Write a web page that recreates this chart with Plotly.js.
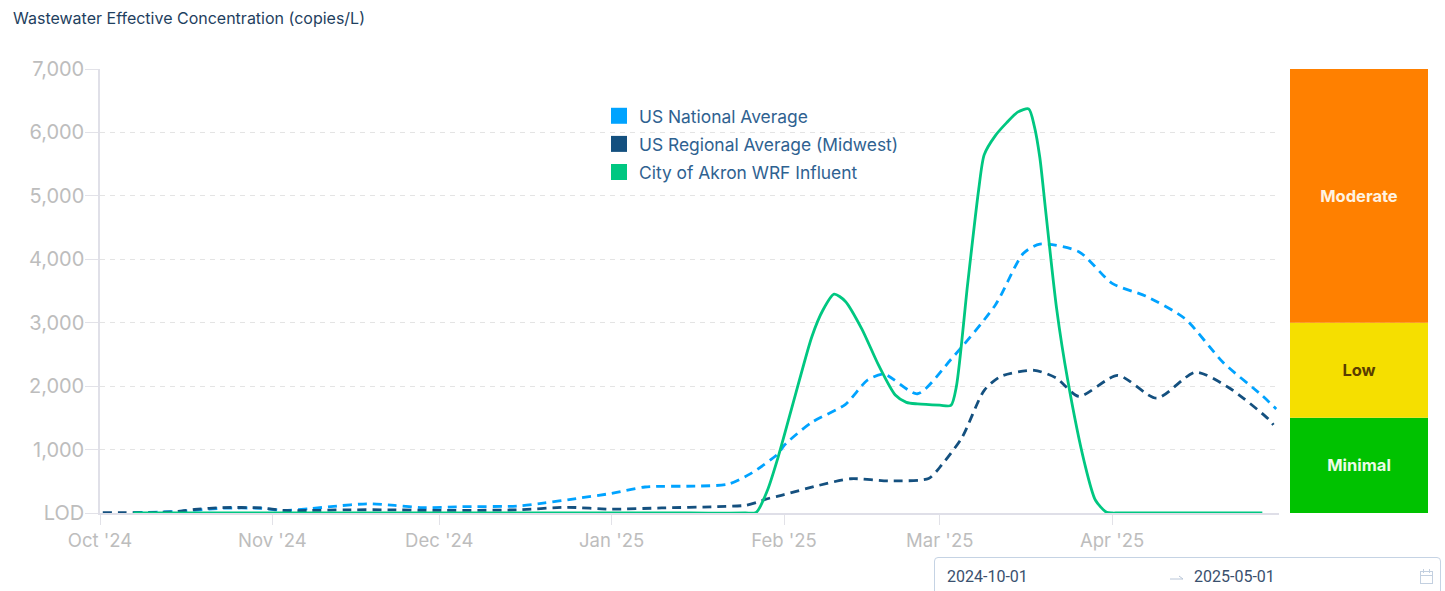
<!DOCTYPE html>
<html>
<head>
<meta charset="utf-8">
<script src="https://cdn.plot.ly/plotly-3.0.1.min.js"></script>
<style>
html,body{margin:0;padding:0;background:#fff;overflow:hidden}
#chart{position:absolute;left:0;top:0;width:1445px;height:591px}
#picker{position:absolute;left:934px;top:557px;width:507px;height:50px;box-sizing:border-box;border:1px solid #c5d3e4;border-radius:4px;background:#fff;font-family:Roboto,sans-serif;font-size:16px;color:#3a506e}
#picker span{position:absolute;top:9px;line-height:20px}
#picker svg{position:absolute}
</style>
</head>
<body>
<div id="chart"></div>
<div id="picker">
  <span style="left:12px">2024-10-01</span>
  <svg style="left:234px;top:15px" width="16" height="10"><path d="M1 6H14L10 3" fill="none" stroke="#b9c6d8" stroke-width="1"/></svg>
  <span style="left:259px">2025-05-01</span>
  <svg style="left:484px;top:10px" width="16" height="18"><rect x="1.5" y="3.5" width="12" height="12" fill="none" stroke="#c3d0e0"/><path d="M1.5 7.5H13.5M4.5 1V5M10.5 1V5" stroke="#c3d0e0" fill="none"/></svg>
</div>
<script>
var chartTitle = 'Wastewater Effective Concentration (copies/L)';
var nameNational = 'US National Average';
var nameRegional = 'US Regional Average (Midwest)';
var nameCity = 'City of Akron WRF Influent';

var yTickVals = [0,1000,2000,3000,4000,5000,6000,7000];
var yTickText = ['LOD','1,000','2,000','3,000','4,000','5,000','6,000','7,000'];

var regionalDates = ['2024-10-01T12','2024-10-05','2024-10-10','2024-10-15','2024-10-18','2024-10-23','2024-10-30','2024-11-03','2024-11-08','2024-11-14','2024-11-22','2024-11-30','2024-12-15','2024-12-24','2025-01-01','2025-01-10','2025-01-20','2025-01-25','2025-01-27','2025-01-29','2025-02-01','2025-02-07','2025-02-13','2025-02-20','2025-02-27','2025-03-01','2025-03-05','2025-03-09','2025-03-12','2025-03-18','2025-03-22','2025-03-26','2025-04-02','2025-04-09','2025-04-16','2025-04-22','2025-04-29','2025-04-30'];
var regionalValues = [5,5,5,25,55,85,80,40,40,50,50,40,50,90,60,80,100,120,165,225,290,430,540,505,545,720,1190,1935,2155,2250,2125,1840,2170,1810,2220,1975,1490,1390];

var nationalDates = ['2024-10-07','2024-10-15','2024-10-23','2024-10-30','2024-11-03','2024-11-08','2024-11-12','2024-11-18','2024-11-23','2024-11-28','2024-12-05','2024-12-15','2024-12-20','2024-12-25','2025-01-01','2025-01-07','2025-01-17','2025-01-22','2025-01-26','2025-01-31','2025-02-01','2025-02-06','2025-02-12','2025-02-16','2025-02-19','2025-02-25','2025-03-03','2025-03-11','2025-03-16','2025-03-19','2025-03-26','2025-04-01','2025-04-07','2025-04-14','2025-04-21','2025-04-28','2025-04-30T12'];
var nationalValues = [5,25,75,75,40,70,105,145,120,85,100,110,160,220,310,410,425,455,620,940,1065,1430,1710,2095,2190,1880,2420,3280,4090,4240,4120,3620,3420,3070,2370,1850,1640];

var cityDates = ['2024-10-07','2024-11-15','2024-12-15','2025-01-15','2025-01-25','2025-01-27','2025-01-29','2025-01-31','2025-02-03','2025-02-06','2025-02-08','2025-02-10','2025-02-12','2025-02-15','2025-02-18','2025-02-21','2025-02-23','2025-02-25','2025-03-01','2025-03-03','2025-03-04','2025-03-06','2025-03-08','2025-03-09','2025-03-11','2025-03-13','2025-03-15','2025-03-17','2025-03-18','2025-03-19','2025-03-20','2025-03-22','2025-03-24','2025-03-27','2025-03-29','2025-03-31','2025-04-01','2025-04-02','2025-04-15','2025-04-28'];
var cityValues = [0,0,0,0,0,10,355,900,1850,2780,3200,3450,3340,2900,2330,1860,1745,1720,1700,1695,2000,3600,5100,5650,5950,6150,6320,6370,6100,5600,4800,3230,2100,800,200,10,0,0,0,0];

var levelNames = ['Minimal','Low','Moderate'];
var levelBase = [0,1500,3000];
var levelSpan = [1500,1500,4000];
var levelColors = ['#00C200','#F5DF00','#FF8000'];
var levelTextColors = ['#eafbe6','#5a3d00','#fff3e2'];

var W = 1445, H = 591;
var plotTop = 69, plotBottom = 513.5;
var blue = '#00A3FF', navy = '#14507F', green = '#00C781';
var uiFont = 'Inter, sans-serif';
function py(p){ return (plotBottom - p) / (plotBottom - plotTop); }

function lineTrace(x, y, color, dash, width){
  return {x:x, y:y, type:'scatter', mode:'lines', hoverinfo:'skip', showlegend:false, cliponaxis:false,
    line:{color:color, width:width, dash:dash, shape:'spline', smoothing:0.7}, xaxis:'x', yaxis:'y'};
}
function legendTrace(name, color){
  return {x:[null], y:[null], type:'scatter', mode:'markers', name:name, legendgroup:name,
    marker:{symbol:'square', size:16, color:color}, xaxis:'x', yaxis:'y'};
}
var traces = [];
levelNames.forEach(function(n,i){
  traces.push({x:['level'], y:[levelSpan[i]], base:[levelBase[i]], type:'bar', width:1, text:[n],
    textposition:'inside', insidetextanchor:'middle', textangle:0, constraintext:'none', hoverinfo:'skip', showlegend:false,
    textfont:{family:uiFont, size:16.5, color:levelTextColors[i], weight:700},
    marker:{color:levelColors[i], line:{width:0}}, xaxis:'x2', yaxis:'y'});
});
traces.push(
  lineTrace(nationalDates, nationalValues, blue, '9px,6px', 2.8),
  lineTrace(regionalDates, regionalValues, navy, '9px,6px', 2.8),
  lineTrace(cityDates, cityValues, green, 'solid', 2.8),
  legendTrace(nameNational, blue),
  legendTrace(nameRegional, navy),
  legendTrace(nameCity, green)
);

var layout = {
  width:W, height:H, autosize:false,
  margin:{l:0, r:0, t:plotTop, b:H-plotBottom, pad:0},
  paper_bgcolor:'#fff', plot_bgcolor:'#fff',
  barmode:'overlay',
  showlegend:true,
  legend:{x:599/W, y:py(98), xref:'paper', yref:'paper', xanchor:'left', yanchor:'top', bgcolor:'rgba(0,0,0,0)', borderwidth:0,
    traceorder:'grouped', tracegroupgap:2.5, itemsizing:'trace', itemclick:false, itemdoubleclick:false,
    font:{family:uiFont, size:17.4, color:'#2f6291'}},
  xaxis:{type:'date', domain:[100/W,1279/W], range:['2024-10-01','2025-05-01'], anchor:'y', layer:'below traces',
    tickvals:['2024-10-01','2024-11-01','2024-12-01','2025-01-01','2025-02-01','2025-03-01','2025-04-01'],
    tickformat:"%b '%y", ticks:'outside', ticklen:10, tickcolor:'#e2e2e8', tickwidth:1,
    tickfont:{family:uiFont, size:18.5, color:'#bdbdbd'},
    showgrid:false, zeroline:false, showline:true, linecolor:'#dfdfe8', linewidth:1.5, fixedrange:true},
  xaxis2:{type:'category', domain:[1290/W,1428/W], range:[-0.5,0.5], anchor:'y', visible:false, fixedrange:true},
  yaxis:{domain:[0,1], range:[0,7000], tickvals:yTickVals, ticktext:yTickText, ticks:'outside', ticklen:13, tickcolor:'#e2e2e8', tickwidth:1,
    ticklabelstandoff:-3, layer:'below traces',
    tickfont:{family:uiFont, size:20, color:'#bdbdbd'}, anchor:'x',
    showgrid:true, gridcolor:'#e4e4e4', griddash:'5px,5px', gridwidth:1, zeroline:false,
    showline:true, linecolor:'#e0e0e8', linewidth:1.5, fixedrange:true},
  annotations:[{text:chartTitle, xref:'paper', yref:'paper', x:11/W, y:py(18), xanchor:'left', yanchor:'middle', showarrow:false,
    font:{family:uiFont, size:16, color:'#1f3f60'}}]
};
Plotly.newPlot('chart', traces, layout, {displayModeBar:false, responsive:false});
</script>
</body>
</html>
